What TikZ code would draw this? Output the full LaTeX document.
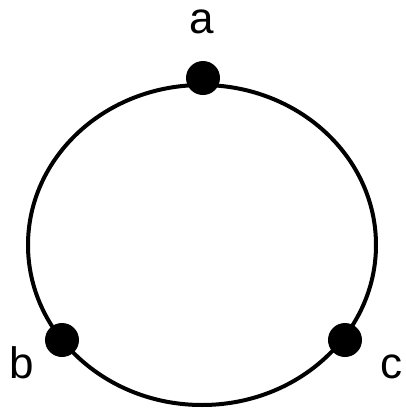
\documentclass[tikz,border=0pt]{standalone}
\usepackage{fontspec}
\setmainfont{Liberation Sans}
\usepackage{tikz}

\begin{document}
\begin{tikzpicture}[
  x=0.5pt, y=-0.5pt,
  ring/.style={draw=black, line width=2pt},
  vertex/.style={circle, fill=black, minimum size=17pt, inner sep=0pt},
  tag/.style={inner sep=0pt, font=\fontsize{22}{26}\selectfont},
]
  \useasboundingbox (0,0) rectangle (406,409);

  % Ring --------------------------------------------------------------------
  \coordinate (centre) at (202,245);
  \draw[ring] (centre) ellipse [x radius=174, y radius=160];

  % Vertices ----------------------------------------------------------------
  \node[vertex] (a) at (203,78) {};
  \node[vertex] (b) at (62,340) {};
  \node[vertex] (c) at (345,340) {};

  % Labels ------------------------------------------------------------------
  \node[tag] (alabel) at (202,22) {a};
  \node[tag] (blabel) at (22,363) {b};
  \node[tag] (clabel) at (392,367) {c};
\end{tikzpicture}
\end{document}
